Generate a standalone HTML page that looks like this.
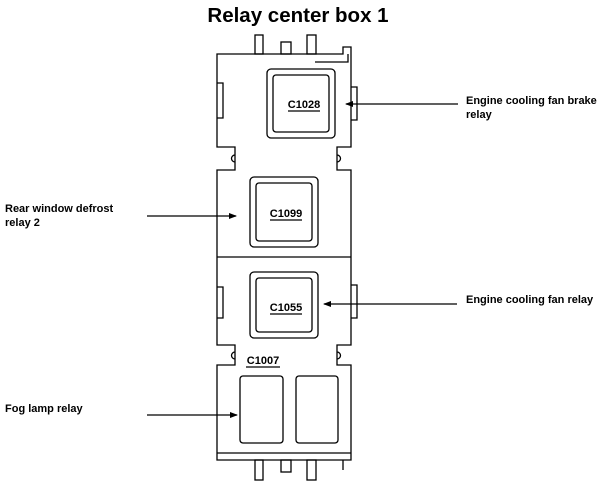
<!DOCTYPE html>
<html><head><meta charset="utf-8"><style>
html,body{margin:0;padding:0;background:#fff;}
svg{display:block;}
text{font-family:"Liberation Sans",Arial,sans-serif;font-weight:bold;fill:#000;}
</style></head><body>
<svg width="601" height="483" viewBox="0 0 601 483" xmlns="http://www.w3.org/2000/svg">
<defs><marker id="ah" markerWidth="8" markerHeight="6" refX="7" refY="3" orient="auto" markerUnits="userSpaceOnUse"><path d="M0,0 L8,3 L0,6 Z" fill="#000"/></marker></defs>
<text x="298" y="22" font-size="20.5" text-anchor="middle">Relay center box 1</text>
<g fill="none" stroke="#000" stroke-width="1.3">
<rect x="255" y="35" width="8" height="19" fill="#fff"/>
<rect x="281" y="42" width="10" height="12" fill="#fff"/>
<rect x="307" y="35" width="9" height="19" fill="#fff"/>
<rect x="255" y="460" width="8" height="20" fill="#fff"/>
<rect x="281" y="460" width="10" height="12" fill="#fff"/>
<rect x="307" y="460" width="9" height="20" fill="#fff"/>
<path d="M217,54 L343,54 L343,47 L351,47 L351,147 L337,147 L337,170 L351,170 L351,345 L337,345 L337,365 L351,365 L351,460 L217,460 L217,365 L235,365 L235,345 L217,345 L217,170 L235,170 L235,147 L217,147 Z"/>
<path d="M343,460 L343,470"/>
<path d="M315,62 L348,62 L348,54"/>
<line x1="217" y1="453" x2="351" y2="453"/>
<line x1="217" y1="257" x2="351" y2="257"/>
<path d="M217,83 L223,83 L223,118 L217,118"/>
<path d="M217,287 L223,287 L223,318 L217,318"/>
<path d="M351,87 L357,87 L357,120 L351,120"/>
<path d="M351,285 L357,285 L357,318 L351,318"/>
<path d="M235,155 A3,3 0 0 0 235,162"/>
<path d="M337,155 A3,3 0 0 1 337,162"/>
<path d="M235,352 A3,3 0 0 0 235,359"/>
<path d="M337,352 A3,3 0 0 1 337,359"/>
<rect x="267" y="69" width="68" height="69" rx="4"/>
<rect x="273" y="75" width="56" height="57" rx="3"/>
<rect x="250" y="177" width="68" height="70" rx="4"/>
<rect x="256" y="183" width="56" height="58" rx="3"/>
<rect x="250" y="272" width="68" height="66" rx="4"/>
<rect x="256" y="278" width="56" height="54" rx="3"/>
<rect x="240" y="376" width="43" height="67" rx="3"/>
<rect x="296" y="376" width="42" height="67" rx="3"/>
<line x1="288" y1="111" x2="320" y2="111"/>
<line x1="270" y1="220" x2="302" y2="220"/>
<line x1="270" y1="314" x2="302" y2="314"/>
<line x1="246" y1="367" x2="280" y2="367"/>
<line x1="458" y1="104" x2="346" y2="104" marker-end="url(#ah)"/>
<line x1="147" y1="216" x2="236" y2="216" marker-end="url(#ah)"/>
<line x1="457" y1="304" x2="324" y2="304" marker-end="url(#ah)"/>
<line x1="147" y1="415" x2="237" y2="415" marker-end="url(#ah)"/>
</g>
<g font-size="11">
<text x="304" y="108" text-anchor="middle">C1028</text>
<text x="286" y="217" text-anchor="middle">C1099</text>
<text x="286" y="311" text-anchor="middle">C1055</text>
<text x="263" y="364" text-anchor="middle">C1007</text>
</g>
<g font-size="11">
<text x="466" y="104">Engine cooling fan brake</text>
<text x="466" y="118">relay</text>
<text x="5" y="212">Rear window defrost</text>
<text x="5" y="226">relay 2</text>
<text x="466" y="303">Engine cooling fan relay</text>
<text x="5" y="412">Fog lamp relay</text>
</g>
</svg>
</body></html>
